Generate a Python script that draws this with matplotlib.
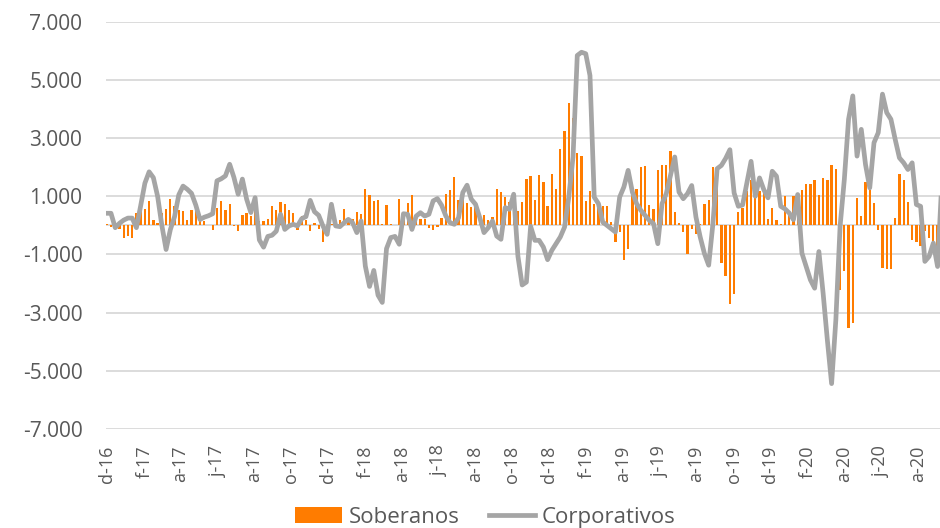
import numpy as np
import pandas as pd
import matplotlib
matplotlib.use("Agg")
import matplotlib.pyplot as plt
import matplotlib.ticker as mticker

plt.rcParams['font.family'] = ['Open Sans', 'DejaVu Sans']

# weekly flows (USD mn)
soberanos = [
    30, -40, -60, -140, -440, -380, -440, 425, 560, 560,
    825, 170, 70, 425, 560, 905, 650, 515, 480, 170,
    515, 480, 250, 135, 0, -170, 595, 825, 515, 745,
    -30, -200, 370, 425, 310, 880, 135, 135, 220, 650,
    515, 790, 745, 515, 425, -150, 310, 195, -195, 90,
    -140, -575, -310, 50, 115, 185, 575, 150, 230, 470,
    400, 1265, 1035, 840, 875, 60, 690, 60, 0, 920,
    345, 780, 1035, 345, 230, 230, -80, -170, -45, 265,
    1070, 1210, 1645, 875, 920, 780, 645, 645, 345, 345,
    185, 300, 1265, 1130, 990, 800, 230, 480, 800, 1600,
    1680, 880, 1740, 1480, 665, 1775, 1260, 2630, 3230, 4200,
    3700, 2500, 2400, 835, 1170, 745, 665, 665, 665, 100,
    -570, -230, -1200, -800, 1200, 1260, 2000, 2040, 690, 570,
    1890, 2060, 2060, 2540, 460, 80, -230, -970, -115, -290,
    60, 720, 880, 2000, 1520, -1290, -1750, -2690, -2350, 460,
    600, 1170, 1575, 1060, 1170, 1115, 220, 600, 170, 60,
    1020, 425, 1000, 1115, 1210, 1425, 1425, 1550, 1035, 1630,
    1550, 2090, 1945, -2220, -1565, -3540, -3370, 945, 310, 1495,
    1230, 770, -150, -1450, -1505, -1495, 250, 1750, 1550, 815,
    -495, -585, -725, -200, -440, -610, -725, -400,
]

corporativos = [
    415, 415, -80, 70, 180, 250, 250, -80, 670, 1450,
    1840, 1640, 1000, 0, -830, -150, 300, 1050, 1350, 1240,
    1100, 700, 200, 280, 330, 400, 1530, 1600, 1700, 2100,
    1650, 1070, 1590, 900, 440, 950, -500, -750, -380, -340,
    -200, 380, -140, -20, 35, -20, 230, 300, 860, 470,
    345, -20, -310, 725, -20, -45, 90, 205, 90, -250,
    150, -1400, -2100, -1550, -2400, -2650, -800, -420, -380, -650,
    400, 380, -140, 320, 435, 320, 380, 840, 920, 690,
    320, 90, 35, 265, 1130, 1380, 900, 725, 265, -250,
    -80, 150, -370, -480, 610, 550, 1070, -1060, -2050, -1950,
    -35, -515, -515, -745, -1180, -860, -630, -400, -60, 970,
    2350, 5840, 5950, 5900, 5150, 970, 745, 115, 0, -115,
    -230, 970, 1320, 1890, 1145, 745, 515, 345, 170, 55,
    -630, 745, 1090, 1720, 2350, 1145, 915, 1090, 1370, 285,
    -400, -970, -1370, 55, 1950, 2060, 2300, 2600, 1115, 655,
    700, 1460, 2200, 1000, 1630, 1230, 945, 1860, 1690, 655,
    565, 425, 195, 1060, -955, -1415, -1875, -2160, -900, -2335,
    -3945, -5440, -3255, -35, 1575, 3645, 4450, 2380, 3300, 2090,
    1290, 2840, 3185, 4510, 3875, 3645, 2955, 2320, 2150, 1920,
    2150, 715, 655, -1240, -1070, -610, -1415, 1500,
]

fechas = pd.date_range('2016-11-30', periods=len(soberanos), freq='7D')

tick_labels = ['d-16', 'f-17', 'a-17', 'j-17', 'a-17', 'o-17', 'd-17', 'f-18',
               'a-18', 'j-18', 'a-18', 'o-18', 'd-18', 'f-19', 'a-19', 'j-19',
               'a-19', 'o-19', 'd-19', 'f-20', 'a-20', 'j-20', 'a-20']
tick_dates = pd.date_range('2016-12-01', periods=len(tick_labels), freq='2MS')

orange = '#FF7C00'
grey = '#A5A5A5'
txt = '#595959'

fig = plt.figure(figsize=(9.4, 5.28), dpi=100)
ax = fig.add_axes([0.1128, 0.1875, 0.8872, 0.7714])

bars = ax.bar(fechas, soberanos, width=3.8, color=orange, label='Soberanos', zorder=2)
line, = ax.plot(fechas, corporativos, color=grey, lw=3.4, solid_joinstyle='round',
                label='Corporativos', zorder=3)

ax.set_ylim(-7000, 7000)
ax.set_yticks(np.arange(-7000, 7001, 2000))
ax.yaxis.set_major_formatter(mticker.FuncFormatter(lambda v, p: f'{v:,.0f}'.replace(',', '.')))
ax.set_xlim(pd.Timestamp('2016-11-28 20:00'), pd.Timestamp('2020-09-06'))
ax.set_xticks(tick_dates)
ax.set_xticklabels(tick_labels, rotation=90)

ax.grid(axis='y', color='#D9D9D9', lw=1.3, zorder=0)
ax.axhline(0, color='#D9D9D9', lw=1.3, zorder=1)
for s in ax.spines.values():
    s.set_visible(False)
ax.tick_params(axis='y', length=0, pad=17, labelsize=15, labelcolor=txt)
ax.tick_params(axis='x', length=0, pad=12, labelsize=13, labelcolor=txt)

fig.legend([bars, line], ['Soberanos', 'Corporativos'], loc='center',
           bbox_to_anchor=(0.5165, 0.02), ncol=2, frameon=False, fontsize=16,
           labelcolor=txt, handlelength=2.1, handletextpad=0.3, columnspacing=1.3)

fig.savefig('out.png', dpi=100)
